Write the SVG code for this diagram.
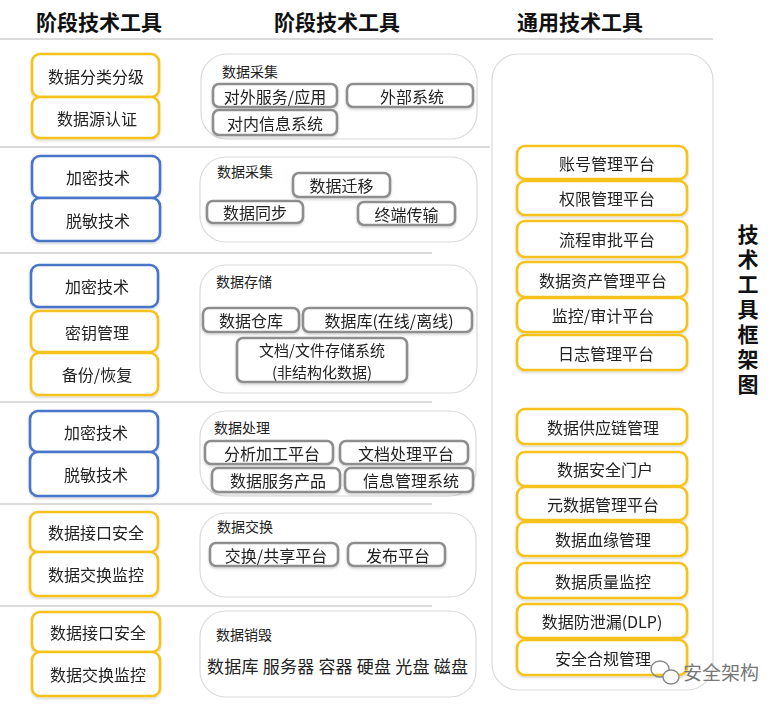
<svg xmlns="http://www.w3.org/2000/svg" width="783" height="707" viewBox="0 0 783 707">
<style>
text{font-family:"Noto Sans CJK SC","Liberation Sans",sans-serif;fill:#222;}
.h{font-size:21px;font-weight:bold;text-anchor:middle;fill:#111;}
.t{font-size:16px;text-anchor:middle;dominant-baseline:central;}
.lbl{font-size:14px;}
.y{fill:#fff;stroke:#F7C21B;stroke-width:2.6;}
.b{fill:#fff;stroke:#4A74C9;stroke-width:2.6;}
.g{fill:#fff;stroke:#8E8E8E;stroke-width:2.6;}
.c{fill:#fff;stroke:#DADADA;stroke-width:1.2;}
.div{stroke:#CFCFCF;stroke-width:1.5;}
</style>
<defs>
<filter id="sh" x="-10%" y="-20%" width="120%" height="150%">
<feDropShadow dx="0" dy="1.5" stdDeviation="1.2" flood-color="#000" flood-opacity="0.18"/>
</filter>
</defs>
<rect width="783" height="707" fill="#fff"/>

<g id="headers">
<text class="h" x="99" y="30">阶段技术工具</text>
<text class="h" x="337" y="30">阶段技术工具</text>
<text class="h" x="580" y="30">通用技术工具</text>
<line class="div" x1="0" y1="39" x2="713" y2="39"/>
</g>

<g id="dividers">
<line class="div" x1="0" y1="147" x2="490" y2="147"/>
<line class="div" x1="0" y1="253" x2="432" y2="253"/>
<line class="div" x1="0" y1="402" x2="432" y2="402"/>
<line class="div" x1="0" y1="504" x2="432" y2="504"/>
<line class="div" x1="0" y1="606" x2="432" y2="606"/>
</g>

<g id="left" filter="url(#sh)">
<g id="l1a"><rect class="y" x="32" y="54" width="127" height="43" rx="8"/><text class="t" x="96" y="75.5">数据分类分级</text></g>
<g id="l1b"><rect class="y" x="32" y="97" width="127" height="41" rx="8"/><text class="t" x="97" y="117.5">数据源认证</text></g>
<g id="l2a"><rect class="b" x="32" y="156" width="128" height="42" rx="8"/><text class="t" x="98" y="177">加密技术</text></g>
<g id="l2b"><rect class="b" x="32" y="198" width="128" height="43" rx="8"/><text class="t" x="98" y="219.5">脱敏技术</text></g>
<g id="l3a"><rect class="b" x="31" y="265" width="127" height="42" rx="8"/><text class="t" x="97" y="286">加密技术</text></g>
<g id="l3b"><rect class="y" x="31" y="311" width="127" height="41" rx="8"/><text class="t" x="97" y="331.5">密钥管理</text></g>
<g id="l3c"><rect class="y" x="31" y="353" width="127" height="42" rx="8"/><text class="t" x="97" y="374">备份/恢复</text></g>
<g id="l4a"><rect class="b" x="30" y="411" width="128" height="41" rx="8"/><text class="t" x="96" y="431.5">加密技术</text></g>
<g id="l4b"><rect class="b" x="30" y="452" width="128" height="44" rx="8"/><text class="t" x="96" y="474">脱敏技术</text></g>
<g id="l5a"><rect class="y" x="30" y="512" width="128" height="40" rx="8"/><text class="t" x="96" y="532">数据接口安全</text></g>
<g id="l5b"><rect class="y" x="30" y="552" width="128" height="44" rx="8"/><text class="t" x="96" y="574">数据交换监控</text></g>
<g id="l6a"><rect class="y" x="32" y="612" width="128" height="40" rx="8"/><text class="t" x="98" y="632">数据接口安全</text></g>
<g id="l6b"><rect class="y" x="32" y="652" width="128" height="44" rx="8"/><text class="t" x="98" y="674">数据交换监控</text></g>
</g>

<g id="m1">
<rect class="c" x="201" y="54" width="276" height="85" rx="26"/>
<text class="lbl" x="222" y="77">数据采集</text>
<g filter="url(#sh)">
<rect class="g" x="213" y="84" width="124" height="23" rx="6"/><text class="t" x="275" y="95.5">对外服务/应用</text>
<rect class="g" x="347" y="84" width="126" height="23" rx="6"/><text class="t" x="412" y="95.5">外部系统</text>
<rect class="g" x="213" y="110" width="124" height="25" rx="6"/><text class="t" x="275" y="122.5">对内信息系统</text>
</g>
</g>

<g id="m2">
<rect class="c" x="200" y="157" width="277" height="85" rx="26"/>
<text class="lbl" x="217" y="177">数据采集</text>
<g filter="url(#sh)">
<rect class="g" x="293" y="173" width="97" height="24" rx="6"/><text class="t" x="341.5" y="185">数据迁移</text>
<rect class="g" x="207" y="201" width="96" height="22" rx="6"/><text class="t" x="255" y="212">数据同步</text>
<rect class="g" x="358" y="202" width="97" height="23" rx="6"/><text class="t" x="406.5" y="213.5">终端传输</text>
</g>
</g>

<g id="m3">
<rect class="c" x="200" y="265" width="277" height="128" rx="26"/>
<text class="lbl" x="216" y="287">数据存储</text>
<g filter="url(#sh)">
<rect class="g" x="203" y="308" width="96" height="24" rx="6"/><text class="t" x="251" y="320">数据仓库</text>
<rect class="g" x="303" y="308" width="169" height="24" rx="6"/><text class="t" x="389" y="320">数据库(在线/离线)</text>
<rect class="g" x="237" y="338" width="170" height="44" rx="6"/>
<text class="t" x="322" y="349" style="font-size:15px">文档/文件存储系统</text>
<text class="t" x="322" y="371" style="font-size:15px">(非结构化数据)</text>
</g>
</g>

<g id="m4">
<rect class="c" x="200" y="411" width="276" height="85" rx="26"/>
<text class="lbl" x="214" y="433">数据处理</text>
<g filter="url(#sh)">
<rect class="g" x="205" y="441" width="128" height="23" rx="6"/><text class="t" x="272" y="452.5">分析加工平台</text>
<rect class="g" x="340" y="441" width="128" height="23" rx="6"/><text class="t" x="406" y="452.5">文档处理平台</text>
<rect class="g" x="212" y="468" width="128" height="24" rx="6"/><text class="t" x="278" y="480">数据服务产品</text>
<rect class="g" x="345" y="468" width="128" height="24" rx="6"/><text class="t" x="411" y="480">信息管理系统</text>
</g>
</g>

<g id="m5">
<rect class="c" x="200" y="513" width="276" height="84" rx="26"/>
<text class="lbl" x="217" y="532">数据交换</text>
<g filter="url(#sh)">
<rect class="g" x="210" y="543" width="128" height="23" rx="6"/><text class="t" x="276" y="554.5">交换/共享平台</text>
<rect class="g" x="348" y="543" width="97" height="23" rx="6"/><text class="t" x="398" y="554.5">发布平台</text>
</g>
</g>

<g id="m6">
<rect class="c" x="200" y="611" width="276" height="86" rx="26"/>
<text class="lbl" x="216" y="640">数据销毁</text>
<text x="207" y="673" style="font-size:17px" textLength="261">数据库 服务器 容器 硬盘 光盘 磁盘</text>
</g>

<g id="right">
<rect class="c" x="492" y="54" width="221" height="636" rx="26"/>
<g filter="url(#sh)">
<g id="r1"><rect class="y" x="517" y="146" width="170" height="33" rx="8"/><text class="t" x="607" y="162.5">账号管理平台</text></g>
<g id="r2"><rect class="y" x="517" y="181" width="170" height="34" rx="8"/><text class="t" x="607" y="198">权限管理平台</text></g>
<g id="r3"><rect class="y" x="517" y="221" width="170" height="36" rx="8"/><text class="t" x="607" y="239">流程审批平台</text></g>
<g id="r4"><rect class="y" x="517" y="262" width="170" height="35" rx="8"/><text class="t" x="603" y="279.5">数据资产管理平台</text></g>
<g id="r5"><rect class="y" x="517" y="298" width="170" height="34" rx="8"/><text class="t" x="603" y="315">监控/审计平台</text></g>
<g id="r6"><rect class="y" x="517" y="335" width="170" height="35" rx="8"/><text class="t" x="606" y="352.5">日志管理平台</text></g>
<g id="r7"><rect class="y" x="517" y="409" width="170" height="35" rx="8"/><text class="t" x="603" y="426.5">数据供应链管理</text></g>
<g id="r8"><rect class="y" x="517" y="452" width="170" height="34" rx="8"/><text class="t" x="605" y="469">数据安全门户</text></g>
<g id="r9"><rect class="y" x="517" y="487" width="170" height="33" rx="8"/><text class="t" x="603" y="503.5">元数据管理平台</text></g>
<g id="r10"><rect class="y" x="517" y="522" width="170" height="34" rx="8"/><text class="t" x="603" y="539">数据血缘管理</text></g>
<g id="r11"><rect class="y" x="517" y="563" width="170" height="35" rx="8"/><text class="t" x="603" y="580.5">数据质量监控</text></g>
<g id="r12"><rect class="y" x="517" y="604" width="170" height="34" rx="8"/><text class="t" x="602" y="621">数据防泄漏(DLP)</text></g>
<g id="r13"><rect class="y" x="517" y="640" width="170" height="35" rx="8"/><text class="t" x="603" y="657.5">安全合规管理</text></g>
</g>
</g>

<g id="title">
<text x="748" y="224" writing-mode="vertical-rl" style="font-size:21px;font-weight:bold;letter-spacing:4px;fill:#111;">技术工具框架图</text>
</g>

<g id="watermark">
<ellipse cx="660" cy="669" rx="9" ry="8" fill="none" stroke="#888" stroke-width="1.4"/>
<ellipse cx="671" cy="677" rx="8" ry="7" fill="#fff" stroke="#888" stroke-width="1.4"/>
<text x="683" y="680" style="font-size:19px;fill:#777;">安全架构</text>
</g>
</svg>
